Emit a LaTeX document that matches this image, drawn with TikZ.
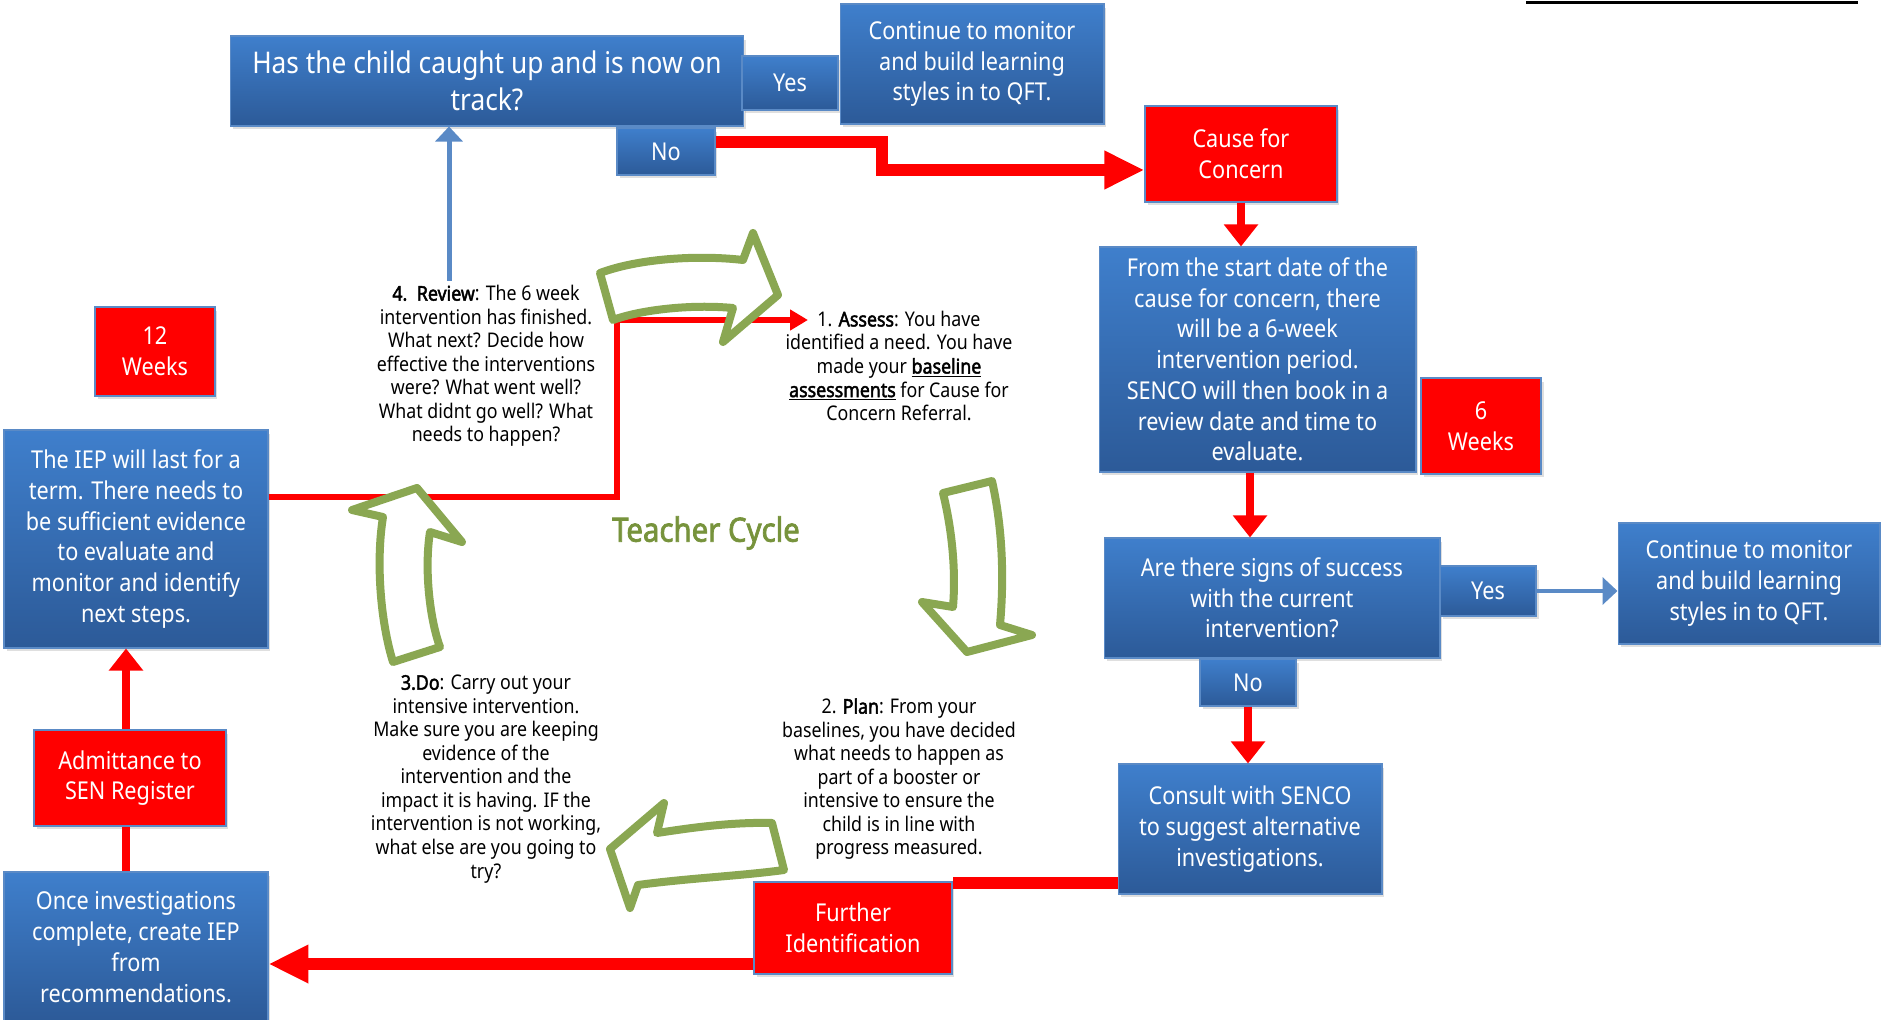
\documentclass[tikz,border=0pt]{standalone}
\usepackage{fontspec}
\setmainfont{Noto Sans}[FakeStretch=0.88, BoldFont={Noto Sans}, BoldFeatures={FakeBold=2.2}]
\usetikzlibrary{arrows.meta,shadows}

\definecolor{boxtop}{HTML}{3F7FCC}
\definecolor{boxbot}{HTML}{2C5A98}
\definecolor{boxline}{HTML}{5A8AC6}
\definecolor{cyclegreen}{HTML}{8AA752}
\definecolor{cycletitle}{HTML}{77933C}
\definecolor{flowred}{HTML}{FF0000}

\tikzset{
  boxshadow/.style={drop shadow={shadow xshift=0.05cm, shadow yshift=-0.07cm, opacity=0.25}},
  bluebox/.style={draw=boxline, line width=0.6pt, top color=boxtop, bottom color=boxbot,
    text=white, align=center, inner sep=0pt, boxshadow, font=\fontsize{14}{17.5}\selectfont},
  redbox/.style={draw=boxline, line width=0.8pt, fill=flowred,
    text=white, align=center, inner sep=0pt, boxshadow, font=\fontsize{14}{17.5}\selectfont},
  steptext/.style={align=center, font=\fontsize{11.5}{13.4}\selectfont},
  bigred/.style={draw=flowred, line width=0.24cm, -{Triangle[length=0.8cm,width=0.72cm]}},
  smallred/.style={draw=flowred, line width=0.16cm, -{Triangle[length=0.44cm,width=0.66cm]}},
  thinred/.style={draw=flowred, line width=0.13cm, -{Triangle[length=0.36cm,width=0.4cm]}},
  redline/.style={draw=flowred, line width=0.24cm},
  bluearrow/.style={draw=boxline, line width=0.1cm, -{Triangle[length=0.3cm,width=0.54cm]}},
  cyclearrow/.style={draw=cyclegreen, fill=white, line width=0.16cm, line join=round},
}

\begin{document}
\begin{tikzpicture}[x=0.02cm, y=-0.02cm]
  \useasboundingbox (0,0) rectangle (1881,1020);

  % top row
  \node[bluebox, minimum width=10.28cm, minimum height=1.8cm, font=\fontsize{17}{21}\selectfont] (has) at (487,81)
    {Has the child caught up and is now on\\track?};
  \node[bluebox, minimum width=1.92cm, minimum height=1.08cm] (hasyes) at (790,83) {Yes};
  \node[bluebox, minimum width=5.28cm, minimum height=2.4cm] (conttop) at (972,64)
    {Continue to monitor\\and build learning\\styles in to QFT.};
  \node[bluebox, minimum width=1.96cm, minimum height=0.94cm] (hasno) at (666,151.5) {No};
  \node[redbox, minimum width=3.84cm, minimum height=1.92cm] (cause) at (1241,154) {Cause for\\Concern};

  % right column
  \node[bluebox, minimum width=6.34cm, minimum height=4.5cm] (start) at (1257.5,359.5)
    {From the start date of the\\cause for concern, there\\will be a 6-week\\intervention period.\\SENCO will then book in a\\review date and time to\\evaluate.};
  \node[redbox, minimum width=2.4cm, minimum height=1.92cm] (six) at (1481,426) {6\\Weeks};
  \node[bluebox, minimum width=6.72cm, minimum height=2.4cm] (signs) at (1272,598)
    {Are there signs of success\\with the current\\intervention?};
  \node[bluebox, minimum width=1.92cm, minimum height=1.0cm] (signsyes) at (1488,591) {Yes};
  \node[bluebox, minimum width=5.24cm, minimum height=2.42cm] (contright) at (1749,583.5)
    {Continue to monitor\\and build learning\\styles in to QFT.};
  \node[bluebox, minimum width=1.92cm, minimum height=0.94cm] (signsno) at (1248,682.5) {No};
  \node[bluebox, minimum width=5.28cm, minimum height=2.6cm] (consult) at (1250,829)
    {Consult with SENCO\\to suggest alternative\\investigations.};
  \node[redbox, minimum width=3.96cm, minimum height=1.84cm] (further) at (853,928) {Further\\Identification};

  % left column
  \node[bluebox, minimum width=5.28cm, minimum height=3.0cm] (once) at (136,947)
    {Once investigations\\complete, create IEP\\from\\recommendations.};
  \node[redbox, minimum width=3.84cm, minimum height=1.92cm] (admit) at (130,778) {Admittance to\\SEN Register};
  \node[bluebox, minimum width=5.28cm, minimum height=4.36cm] (iep) at (136,539)
    {The IEP will last for a\\term. There needs to\\be sufficient evidence\\to evaluate and\\monitor and identify\\next steps.};
  \node[redbox, minimum width=2.4cm, minimum height=1.78cm] (twelve) at (155,351.5) {12\\Weeks};

  % teacher cycle texts
  \node[steptext] (review) at (486,366)
    {\textbf{4.\, Review}: The 6 week\\intervention has finished.\\What next? Decide how\\effective the interventions\\were? What went well?\\What didnt go well? What\\needs to happen?};
  \node[steptext] (assess) at (899,366)
    {1. \textbf{Assess}: You have\\identified a need. You have\\made your \underline{\textbf{baseline}}\\\underline{\textbf{assessments}} for Cause for\\Concern Referral.};
  \node[steptext] (plan) at (899,779)
    {2. \textbf{Plan}: From your\\baselines, you have decided\\what needs to happen as\\part of a booster or\\intensive to ensure the\\child is in line with\\progress measured.};
  \node[steptext] (do) at (486,779)
    {\textbf{3.Do}: Carry out your\\intensive intervention.\\Make sure you are keeping\\evidence of the\\intervention and the\\impact it is having. IF the\\intervention is not working,\\what else are you going to\\try?};
  \node[text=cycletitle, font=\fontsize{19}{22}\selectfont\bfseries] (title) at (706,533) {Teacher Cycle};

  % connectors
  \coordinate (revtop) at (449,281);
  \coordinate (assesstip) at (808,320);
  \draw[bluearrow] (revtop) -- (revtop |- has.south);
  \draw[bigred] (hasno.east |- 0,142) -| (882,170) -- (cause.west |- 0,170);
  \draw[smallred] (cause.south) -- (cause.south |- start.north);
  \draw[smallred] (start.south -| 1250,0) -- (signs.north -| 1250,0);
  \draw[bluearrow] (signsyes.east) -- (contright.west |- signsyes.east);
  \draw[smallred] (signsno.south) -- (signsno.south |- consult.north);
  \draw[redline] (consult.west |- 0,883) -- (further.east |- 0,883);
  \draw[bigred] (further.west |- 0,964) -- (once.east |- 0,964);
  \draw[redline, line width=0.16cm] (once.north -| 126,0) -- (admit.south -| 126,0);
  \draw[smallred] (admit.north -| 126,0) -- (iep.south -| 126,0);
  \draw[thinred] (iep.east |- 0,497) -| (617,320) -- (assesstip);

  % cycle arrows
  \draw[cyclearrow] (600,273) .. controls (640,258) and (700,255) .. (743,260) -- (753,233) -- (778,295)
    -- (723,342) -- (733,308) .. controls (690,304) and (640,310) .. (613,320) -- cycle;
  \draw[cyclearrow] (943,493) -- (992,481) .. controls (1003,530) and (1004,580) .. (1000,625) -- (1032,635)
    -- (967,652) -- (922,602) -- (953,607) .. controls (956,570) and (952,530) .. (943,493) -- cycle;
  \draw[cyclearrow] (772,823) .. controls (730,822) and (690,828) .. (657,833) -- (664,803) -- (610,849)
    -- (630,908) -- (638,885) .. controls (690,878) and (740,876) .. (784,870) -- cycle;
  \draw[cyclearrow] (393,662) .. controls (380,620) and (376,560) .. (383,517) -- (352,510) -- (417,488)
    -- (462,542) -- (430,532) .. controls (424,570) and (430,620) .. (440,647) -- cycle;

  % title rule, top right
  \draw[line width=0.06cm] (1526,3) -- (1858,3);
\end{tikzpicture}
\end{document}
